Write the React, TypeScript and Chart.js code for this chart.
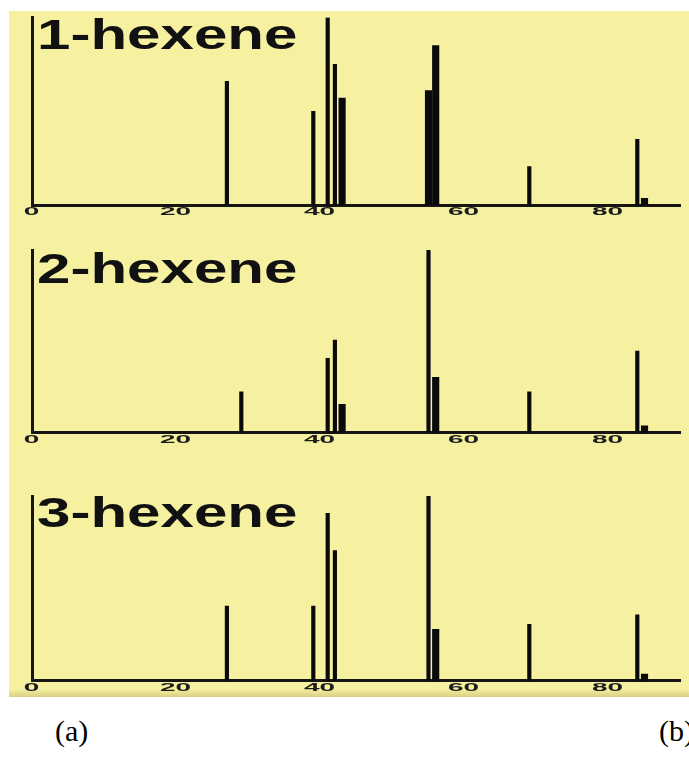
import React, { useEffect, useRef } from 'react';
import { Chart, registerables } from 'chart.js';

Chart.register(...registerables);

// m/z axis
const massTicks = [0, 20, 40, 60, 80];
const massMin = 0;
const massMax = 90;

// 1-hexene (relative intensity, %)
const hex1ThinMz = [27, 39, 41, 42, 69, 84];
const hex1ThinInt = [66, 50, 100, 75, 20.5, 35];
const hex1ThickMz = [43, 55, 56, 85];
const hex1ThickInt = [57, 61, 85, 3.5];

// 2-hexene
const hex2ThinMz = [29, 41, 42, 55, 69, 84];
const hex2ThinInt = [22.4, 40.7, 50.7, 100, 22.4, 44.7];
const hex2ThickMz = [43, 56, 85];
const hex2ThickInt = [15.5, 30.3, 3.7];

// 3-hexene
const hex3ThinMz = [27, 39, 41, 42, 55, 69, 84];
const hex3ThinInt = [40.4, 40.4, 90.6, 70.4, 100, 30.5, 35.6];
const hex3ThickMz = [56, 85];
const hex3ThickInt = [27.8, 3.6];

const panelTitles = ['1-hexene', '2-hexene', '3-hexene'];
const captionLabels = ['(a)', '(b)'];

const stretchedTicks = {
  id: 'stretchedTicks',
  afterDraw(chart: any) {
    const xs = chart.scales.x;
    const ctx = chart.ctx;
    const y = chart.chartArea.bottom + 7.5;
    ctx.save();
    ctx.fillStyle = '#1c1c1c';
    ctx.font = 'bold 10px "Liberation Sans", Arial, sans-serif';
    ctx.textAlign = 'center';
    ctx.textBaseline = 'middle';
    for (const v of massTicks) {
      const px = xs.getPixelForValue(v);
      ctx.save();
      ctx.translate(px - 1, y);
      ctx.scale(2.8, 1);
      ctx.fillText(String(v), 0, 0);
      ctx.restore();
    }
    ctx.restore();
  },
};

type PanelProps = {
  top: number;
  height: number;
  padTop: number;
  padBottom: number;
  thinMz: number[];
  thinInt: number[];
  thickMz: number[];
  thickInt: number[];
};

function Panel({ top, height, padTop, padBottom, thinMz, thinInt, thickMz, thickInt }: PanelProps) {
  const ref = useRef<HTMLCanvasElement | null>(null);
  useEffect(() => {
    if (!ref.current) return;
    const chart = new Chart(ref.current, {
      type: 'bar',
      data: {
        datasets: [
          {
            data: thinMz.map((x, i) => ({ x, y: thinInt[i] })),
            backgroundColor: '#0a0a0a',
            borderWidth: 0,
            barThickness: 3.5,
            grouped: false,
          } as any,
          {
            data: thickMz.map((x, i) => ({ x, y: thickInt[i] })),
            backgroundColor: '#0a0a0a',
            borderWidth: 0,
            barThickness: 6.5,
            grouped: false,
          } as any,
        ],
      },
      options: {
        responsive: false,
        maintainAspectRatio: false,
        animation: false,
        layout: { padding: { left: 32.5, right: 8.5, top: padTop, bottom: padBottom } },
        plugins: {
          legend: { display: false },
          tooltip: { enabled: false },
          title: { display: false },
        },
        scales: {
          x: {
            type: 'linear',
            min: massMin,
            max: massMax,
            offset: false,
            grid: { display: false, drawTicks: false },
            ticks: { display: false, stepSize: 20 },
            border: { display: true, color: '#151515', width: 3 },
          },
          y: {
            min: 0,
            max: 100,
            grid: { display: false, drawTicks: false },
            ticks: { display: false },
            border: { display: true, color: '#151515', width: 3 },
          },
        },
      } as any,
      plugins: [stretchedTicks],
    });
    return () => chart.destroy();
  }, []);
  return (
    <canvas
      ref={ref}
      width={689}
      height={height}
      style={{ position: 'absolute', left: 0, top, width: 689, height }}
    />
  );
}

const titleStyle: React.CSSProperties = {
  position: 'absolute',
  left: 37,
  font: 'bold 42px "Liberation Sans", Arial, sans-serif',
  lineHeight: '42px',
  color: '#111',
  whiteSpace: 'nowrap',
  transform: 'scaleX(1.43)',
  transformOrigin: '0 0',
};

const captionStyle: React.CSSProperties = {
  position: 'absolute',
  font: '30px "Liberation Serif", "Times New Roman", serif',
  lineHeight: '30px',
  color: '#000',
  whiteSpace: 'nowrap',
};

export default function App() {
  return (
    <div
      style={{
        position: 'fixed',
        left: 0,
        top: 0,
        width: 689,
        height: 770,
        overflow: 'hidden',
        background: '#ffffff',
      }}
    >
      <div
        style={{
          position: 'absolute',
          left: 9,
          top: 11,
          width: 680,
          height: 686,
          background: 'linear-gradient(to bottom, #f6f1a0 0px, #f6f1a0 678px, #d8cf82 686px)',
        }}
      />
      <Panel top={11} height={215} padTop={6.5} padBottom={21} thinMz={hex1ThinMz} thinInt={hex1ThinInt} thickMz={hex1ThickMz} thickInt={hex1ThickInt} />
      <Panel top={226} height={234} padTop={24} padBottom={27.3} thinMz={hex2ThinMz} thinInt={hex2ThinInt} thickMz={hex2ThickMz} thickInt={hex2ThickInt} />
      <Panel top={460} height={237} padTop={36} padBottom={16.3} thinMz={hex3ThinMz} thinInt={hex3ThinInt} thickMz={hex3ThickMz} thickInt={hex3ThickInt} />
      <div style={{ ...titleStyle, top: 50 - 35.6 }}>{panelTitles[0]}</div>
      <div style={{ ...titleStyle, top: 284 - 35.6 }}>{panelTitles[1]}</div>
      <div style={{ ...titleStyle, top: 528 - 35.6 }}>{panelTitles[2]}</div>
      <div style={{ ...captionStyle, left: 55, top: 716 }}>{captionLabels[0]}</div>
      <div style={{ ...captionStyle, left: 659, top: 716 }}>{captionLabels[1]}</div>
    </div>
  );
}
